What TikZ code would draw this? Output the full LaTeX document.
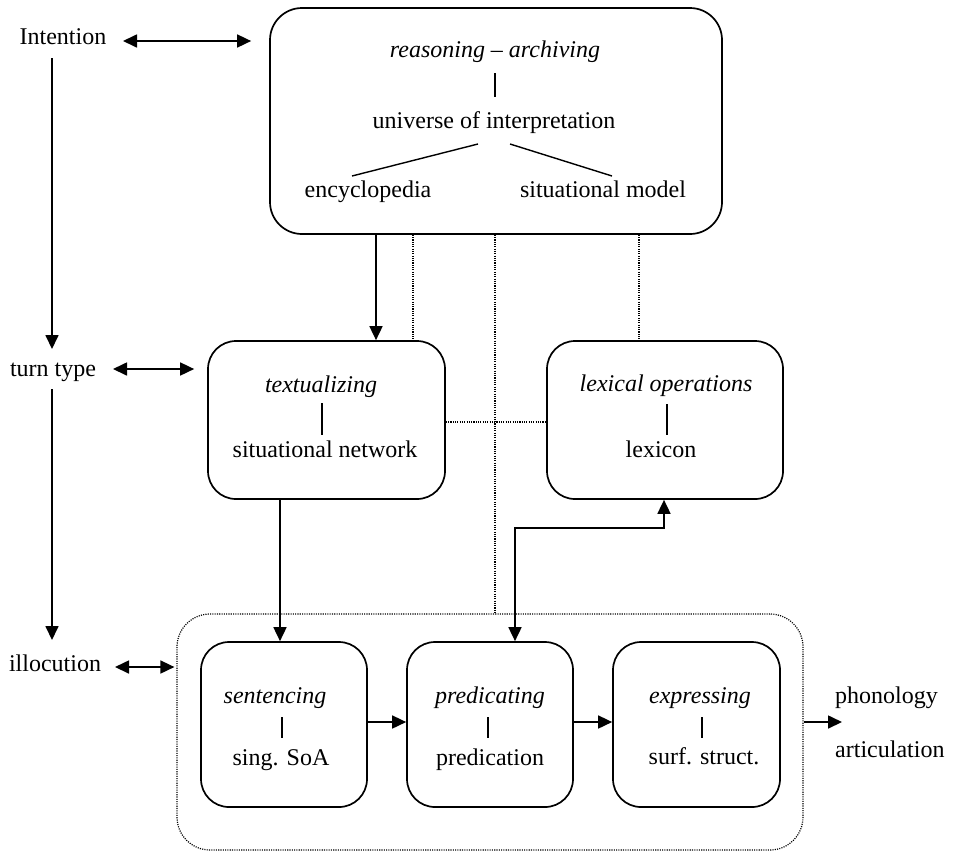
\documentclass[tikz,border=0pt]{standalone}
\usepackage{fontspec}
\setmainfont{Liberation Serif}
\usetikzlibrary{arrows.meta}
\begin{document}
\begin{tikzpicture}[x=1pt,y=-1pt,
  lbl/.style={inner sep=0pt, font=\fontsize{24}{29}\selectfont},
  ital/.style={inner sep=0pt, font=\fontsize{24}{29}\selectfont\itshape},
  box/.style={draw, line width=1.7pt, inner sep=0pt, rounded corners=28pt},
  dotbox/.style={draw, line width=1.2pt, dash pattern=on 1.1pt off 1.2pt, inner sep=0pt, rounded corners=33pt},
  tip/.tip={Triangle[length=14pt,width=13pt]},
  arr/.style={-tip, line width=1.7pt},
  dbl/.style={tip-tip, line width=1.7pt},
  dots/.style={line width=1.2pt, dash pattern=on 1.1pt off 1.2pt},
  tick/.style={line width=1.4pt}
]
\useasboundingbox (0,0) rectangle (957,852);

% column and row guides for the connectors
\coordinate (xA) at (376,0);
\coordinate (xB) at (413,0);
\coordinate (xC) at (495,0);
\coordinate (xD) at (639,0);
\coordinate (xE) at (280,0);
\coordinate (xF) at (515,0);
\coordinate (xG) at (664,0);
\coordinate (yH) at (0,528);
\coordinate (yL) at (0,422);
\coordinate (yR) at (0,722);
\coordinate (out) at (842,722);

% boxes
\node[box, rounded corners=32pt, minimum width=452pt, minimum height=226pt] (top) at (496,121) {};
\node[box, minimum width=237pt, minimum height=158pt] (textbox) at (326.5,420) {};
\node[box, minimum width=236pt, minimum height=158pt] (lexbox) at (665,420) {};
\node[dotbox, minimum width=626pt, minimum height=236pt] (outer) at (490,732) {};
\node[box, minimum width=166pt, minimum height=165pt] (sent) at (284,724.5) {};
\node[box, minimum width=166pt, minimum height=165pt] (pred) at (490,724.5) {};
\node[box, minimum width=167pt, minimum height=165pt] (expr) at (696.5,724.5) {};

% left-hand labels
\node[lbl, anchor=base] (intention) at (63,44) {Intention};
\node[lbl, anchor=base] (turntype) at (53,376) {turn type};
\node[lbl, anchor=base] (illocution) at (55,671) {illocution};

% contents of the top box
\node[ital, anchor=base] (r1) at (495,57) {reasoning – archiving};
\node[lbl, anchor=base] (r2) at (494,128) {universe of interpretation};
\node[lbl, anchor=base] (r3) at (368,197) {encyclopedia};
\node[lbl, anchor=base] (r4) at (603,197) {situational model};
\draw[tick] ([yshift=-16pt]r1.base) -- ([yshift=-40pt]r1.base);
\draw[tick] ([xshift=-16pt,yshift=-16pt]r2.base) -- ([xshift=-142pt,yshift=-48pt]r2.base);
\draw[tick] ([xshift=16pt,yshift=-16pt]r2.base) -- ([xshift=118pt,yshift=-48pt]r2.base);

% contents of the middle boxes
\node[ital, anchor=base] (t1) at (321,392) {textualizing};
\node[lbl, anchor=base] (t2) at (325,457) {situational network};
\draw[tick] ([xshift=1pt,yshift=-11pt]t1.base) -- ([xshift=1pt,yshift=-43pt]t1.base);
\node[ital, anchor=base] (l1) at (666,391) {lexical operations};
\node[lbl, anchor=base] (l2) at (661,457) {lexicon};
\draw[tick] ([xshift=1pt,yshift=-13pt]l1.base) -- ([xshift=1pt,yshift=-44pt]l1.base);

% contents of the bottom boxes
\node[ital, anchor=base] (s1) at (275,703) {sentencing};
\node[lbl, anchor=base] (s2) at (281,765) {sing. SoA};
\draw[tick] ([xshift=7pt,yshift=-14pt]s1.base) -- ([xshift=7pt,yshift=-35pt]s1.base);
\node[ital, anchor=base] (p1) at (490,703) {predicating};
\node[lbl, anchor=base] (p2) at (490,765) {predication};
\draw[tick] ([xshift=-2pt,yshift=-14pt]p1.base) -- ([xshift=-2pt,yshift=-35pt]p1.base);
\node[ital, anchor=base] (e1) at (700,703) {expressing};
\node[lbl, anchor=base] (e2) at (704,764) {surf. struct.};
\draw[tick] ([xshift=2pt,yshift=-14pt]e1.base) -- ([xshift=2pt,yshift=-35pt]e1.base);

% output labels
\node[lbl, anchor=base west] (phon) at (835,703) {phonology};
\node[lbl, anchor=base west] (artic) at (835,757) {articulation};

% left column arrows
\draw[arr] ([xshift=-11pt,yshift=-14pt]intention.base) -- ([xshift=-1pt,yshift=27pt]turntype.base);
\draw[arr] ([xshift=-1pt,yshift=-13pt]turntype.base) -- ([xshift=-3pt,yshift=31pt]illocution.base);
\draw[dbl] ([xshift=60pt,yshift=3pt]intention.base) -- ([xshift=-18pt,yshift=80pt]top.west);
\draw[dbl] ([xshift=60pt,yshift=7pt]turntype.base) -- ([xshift=-13pt,yshift=51pt]textbox.west);
\draw[dbl] ([xshift=60pt,yshift=4pt]illocution.base) -- ([xshift=-2pt,yshift=65pt]outer.west);

% links between the boxes
\draw[arr] (top.south -| xA) -- (textbox.north -| xA);
\draw[dots] (top.south -| xB) -- (textbox.north -| xB);
\draw[dots] (top.south -| xC) -- (outer.north -| xC);
\draw[dots] (top.south -| xD) -- (lexbox.north -| xD);
\draw[dots] (textbox.east |- yL) -- (lexbox.west |- yL);
\draw[arr] (textbox.south -| xE) -- (sent.north -| xE);
\draw[dbl] (pred.north -| xF) |- (xG |- yH) -- (lexbox.south -| xG);
\draw[arr] (sent.east |- yR) -- (pred.west |- yR);
\draw[arr] (pred.east |- yR) -- (expr.west |- yR);
\draw[arr] (outer.east |- yR) -- (out);
\end{tikzpicture}
\end{document}
